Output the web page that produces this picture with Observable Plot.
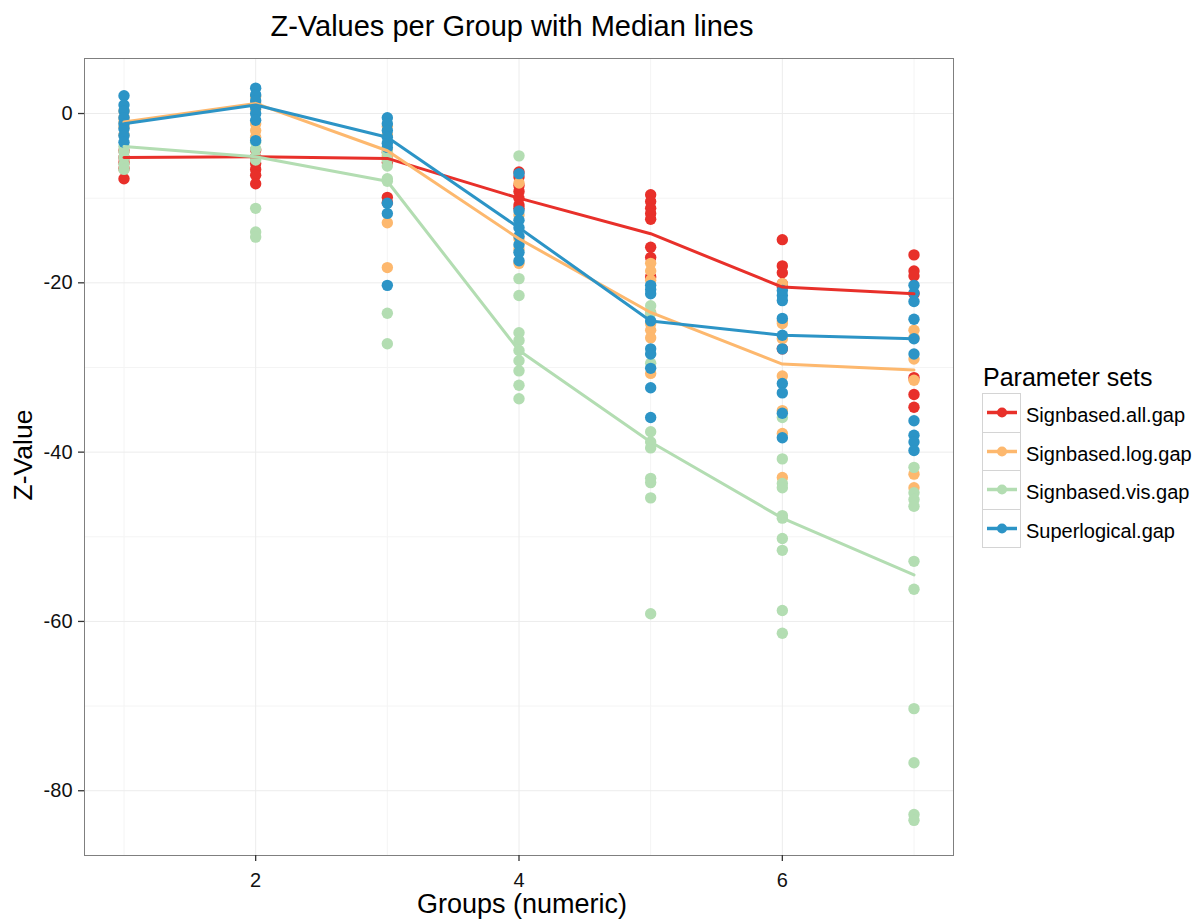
<!DOCTYPE html>
<html><head><meta charset="utf-8">
<script src="https://cdn.jsdelivr.net/npm/d3@7"></script>
<script src="https://cdn.jsdelivr.net/npm/@observablehq/plot@0.6"></script>
<style>
body{margin:0;background:#fff;font-family:"Liberation Sans",Arial,sans-serif;}
#wrap{position:relative;width:1197px;height:920px;overflow:hidden;}
#chart{position:absolute;left:0;top:0;}
.title{position:absolute;left:212px;width:600px;top:11.5px;line-height:1;text-align:center;font-size:29px;color:#000;white-space:nowrap;}
.xlab{position:absolute;left:322px;width:400px;top:891px;line-height:1;text-align:center;font-size:27px;color:#000;white-space:nowrap;}
.ylab{position:absolute;left:23px;top:455px;line-height:1;transform:translate(-50%,-50%) rotate(-90deg);font-size:26.5px;color:#000;white-space:nowrap;}
#legend{position:absolute;left:0;top:0;}
#legend .lt{position:absolute;left:983px;top:364.8px;line-height:1;font-size:25px;color:#000;white-space:nowrap;}
#legend .key{position:absolute;left:982px;width:37px;height:37.5px;border:1px solid #d4d4d4;}
#legend .lab{position:absolute;left:1026px;line-height:1;font-size:20px;color:#000;white-space:nowrap;}
</style></head><body>
<div id="wrap">
  <div id="chart"></div>
  <div class="title">Z-Values per Group with Median lines</div>
  <div class="xlab">Groups (numeric)</div>
  <div class="ylab">Z-Value</div>
  <div id="legend"></div>
</div>
<script>
const groups = [1, 2, 3, 4, 5, 6, 7];
const seriesNames = ["Signbased.all.gap", "Signbased.log.gap", "Signbased.vis.gap", "Superlogical.gap"];
const seriesColors = ["#E8302A", "#FDB86E", "#B3DDB2", "#2C94C6"];
const legendTitle = "Parameter sets";

// Observed Z-values, one list per group (1..7)
const allGap = [
  [-4.4, -5.2, -5.8, -6.5, -7.7],
  [-4.3, -5.1, -5.9, -6.6, -7.3, -8.3],
  [-4.6, -5.3, -5.8, -9.9, -10.5],
  [-6.9, -7.5, -8.5, -9.2, -10.0, -10.8, -11.2],
  [-9.6, -10.4, -11.2, -11.8, -12.5, -15.8, -17.0, -19.3],
  [-14.9, -18.0, -18.8, -20.1, -20.5, -27.8],
  [-16.7, -18.6, -19.2, -21.3, -31.2, -33.2, -34.7]
];
const logGap = [
  [0.3, -0.5, -1.0, -1.6, -2.5],
  [2.0, 1.2, 0.5, -1.2, -2.0, -2.8],
  [-1.5, -2.5, -4.4, -5.0, -12.9, -18.2],
  [-8.2, -12.0, -14.8, -16.0, -17.7],
  [-17.7, -18.6, -19.7, -23.5, -24.8, -25.6, -26.5, -30.7],
  [-20.1, -24.5, -24.8, -26.6, -31.0, -35.1, -37.8, -43.0],
  [-25.6, -26.5, -29.0, -31.5, -42.6, -44.2]
];
const visGap = [
  [-3.9, -4.5, -5.2, -6.0, -6.6],
  [-3.4, -4.2, -5.1, -5.5, -11.2, -14.0, -14.6],
  [-4.6, -5.5, -6.2, -7.7, -8.0, -23.6, -27.2],
  [-5.0, -19.5, -21.5, -25.9, -26.8, -28.0, -29.2, -30.4, -32.1, -33.7],
  [-22.7, -23.6, -29.5, -37.6, -38.8, -39.5, -43.1, -43.6, -45.4, -59.1],
  [-35.9, -40.8, -43.7, -44.2, -47.5, -47.8, -50.2, -51.6, -58.7, -61.4],
  [-41.8, -44.8, -45.6, -46.4, -52.9, -56.2, -70.3, -76.7, -82.8, -83.5]
];
const superGap = [
  [2.1, 1.0, 0.3, -0.5, -1.2, -1.8, -2.6, -3.4],
  [3.0, 2.2, 1.5, 0.7, 0.0, -0.8, -3.2],
  [-0.5, -1.2, -2.0, -2.8, -3.5, -4.0, -10.6, -11.8, -20.3],
  [-7.1, -11.5, -12.6, -13.5, -14.5, -15.5, -16.4, -17.4],
  [-20.3, -20.8, -21.3, -24.5, -27.8, -28.4, -30.1, -32.4, -35.9],
  [-20.9, -21.5, -22.1, -24.2, -26.2, -27.8, -31.9, -33.0, -35.4, -38.3],
  [-20.3, -21.2, -22.2, -24.3, -26.6, -28.4, -36.3, -38.0, -38.8, -39.8]
];

// Median lines per group
const allMedian = [-5.2, -5.1, -5.3, -10.0, -14.2, -20.5, -21.3];
const logMedian = [-1.0, 1.2, -4.4, -14.8, -23.5, -29.6, -30.3];
const visMedian = [-3.9, -5.1, -8.0, -28.0, -38.8, -47.8, -54.5];
const superMedian = [-1.2, 1.0, -2.8, -13.5, -24.5, -26.2, -26.6];

const xTicks = [2, 4, 6];
const yTicks = [0, -20, -40, -60, -80];
const xMinor = [1, 3, 5, 7];
const yMinor = [-10, -30, -50, -70];

const seriesValues = [allGap, logGap, visGap, superGap];
const seriesMedians = [allMedian, logMedian, visMedian, superMedian];

const points = [];
seriesValues.forEach((vals, si) => vals.forEach((list, gi) => list.forEach(v =>
  points.push({series: seriesNames[si], group: groups[gi], value: v}))));
const medians = [];
seriesMedians.forEach((m, si) => m.forEach((v, gi) =>
  medians.push({series: seriesNames[si], group: groups[gi], value: v})));

const chart = Plot.plot({
  width: 960,
  height: 920,
  marginLeft: 84,
  marginRight: 7,
  marginTop: 58,
  marginBottom: 65,
  style: {fontFamily: "'Liberation Sans', Arial, sans-serif", fontSize: "20px", color: "#111", background: "#fff"},
  x: {domain: [0.7, 7.3], label: null},
  y: {domain: [-87.65, 6.5], label: null},
  color: {domain: seriesNames, range: seriesColors},
  marks: [
    Plot.gridX(xMinor, {stroke: "#f4f4f4", strokeOpacity: 1, strokeWidth: 1}),
    Plot.gridY(yMinor, {stroke: "#f4f4f4", strokeOpacity: 1, strokeWidth: 1}),
    Plot.gridX(xTicks, {stroke: "#ececec", strokeOpacity: 1, strokeWidth: 1}),
    Plot.gridY(yTicks, {stroke: "#ececec", strokeOpacity: 1, strokeWidth: 1}),
    Plot.dot(points, {x: "group", y: "value", fill: "series", r: 5.7}),
    Plot.line(medians, {x: "group", y: "value", stroke: "series", z: "series", strokeWidth: 3}),
    Plot.frame({stroke: "#7f7f7f", strokeWidth: 1}),
    Plot.axisX({ticks: xTicks, tickSize: 6, tickPadding: 11, stroke: "#333", strokeWidth: 1.3, tickFormat: d => String(d)}),
    Plot.axisY({ticks: yTicks, tickSize: 6, tickPadding: 6, stroke: "#333", strokeWidth: 1.3, tickFormat: d => String(d)})
  ]
});
document.getElementById("chart").appendChild(chart);

// Legend
const leg = document.getElementById("legend");
const lt = document.createElement("div");
lt.className = "lt"; lt.textContent = legendTitle;
leg.appendChild(lt);
const rowTop = 393, rowH = 38.5;
seriesNames.forEach((name, i) => {
  const key = document.createElement("div");
  key.className = "key";
  key.style.top = (rowTop + i * rowH) + "px";
  key.innerHTML = `<svg width="37" height="37.5" style="display:block"><line x1="4" x2="34" y1="18.5" y2="18.5" stroke="${seriesColors[i]}" stroke-width="3.5"/><circle cx="19" cy="18.5" r="5" fill="${seriesColors[i]}"/></svg>`;
  leg.appendChild(key);
  const lab = document.createElement("div");
  lab.className = "lab";
  lab.style.top = (rowTop + i * rowH + 12.2) + "px";
  lab.textContent = name;
  leg.appendChild(lab);
});
</script>
</body></html>
